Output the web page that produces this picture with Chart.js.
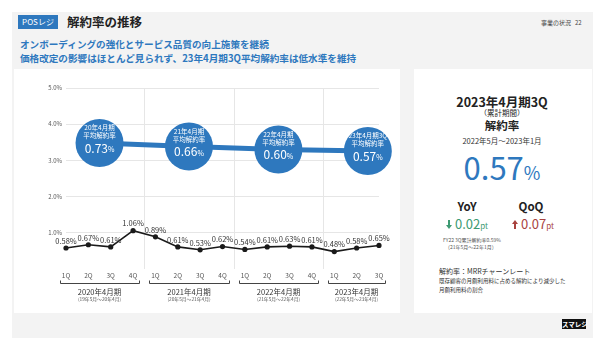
<!DOCTYPE html>
<html lang="ja">
<head>
<meta charset="utf-8">
<script src="https://cdn.jsdelivr.net/npm/chart.js@4.4.0/dist/chart.umd.min.js"></script>
<style>
  body { margin: 0; width: 600px; height: 338px; background: #fff; position: relative; overflow: hidden;
         font-family: "Noto Sans CJK JP", "Noto Sans", sans-serif; color: #222; }
  .abs { position: absolute; white-space: nowrap; }
  .panel { left: 12px; top: 12px; width: 581px; height: 330px; background: #f3f3f3; }
  .card { background: #fff; }
  .badge { left: 18px; top: 15px; width: 40px; height: 14px; background: #2e78be; color: #fff;
           font-size: 8px; line-height: 14px; text-align: center; }
  .title { left: 67px; top: 15px; font-size: 12.5px; line-height: 14px; font-weight: bold; }
  .lead { left: 20px; font-size: 9.6px; line-height: 10px; font-weight: bold; color: #2e78be; }
  .page { left: 541px; top: 19px; font-size: 6px; line-height: 7px; color: #444; }
  .center { left: 412px; width: 180px; text-align: center; }
  .big { color: #2e78be; font-size: 31px; line-height: 32px; }
  .big small { font-size: 18px; }
  .delta { font-size: 13px; line-height: 14px; }
  .delta small { font-size: 8px; }
  .tiny { font-size: 5px; line-height: 6px; color: #555; }
  .note { left: 439px; color: #333; }
  .logo { left: 562px; top: 319px; width: 24px; height: 10px; background: #111; color: #fff;
          font-size: 6.5px; line-height: 10px; font-weight: bold; text-align: center; }
</style>
</head>
<body>
<div class="abs panel"></div>
<div class="abs card" style="left:14px; top:69px; width:386px; height:244px;"></div>
<div class="abs card" style="left:414px; top:69px; width:178px; height:244px;"></div>

<div class="abs badge">POSレジ</div>
<div class="abs title">解約率の推移</div>
<div class="abs page">事業の状況&nbsp;&nbsp;&nbsp;22</div>
<div class="abs lead" style="top:39px;">オンボーディングの強化とサービス品質の向上施策を継続</div>
<div class="abs lead" style="top:53px;">価格改定の影響はほとんど見られず、23年4月期3Q平均解約率は低水準を維持</div>

<canvas id="chart" class="abs" style="left:12px; top:72px;" width="386" height="240"></canvas>

<!-- 右側のサマリー -->
<div class="abs center" style="top:94px; font-size:12.5px; line-height:15px; font-weight:bold;">2023年4月期3Q</div>
<div class="abs center" style="top:108px; font-size:7.5px; line-height:9px;">（累計期間）</div>
<div class="abs center" style="top:118px; font-size:11.5px; line-height:14px; font-weight:bold;">解約率</div>
<div class="abs center" style="top:136px; font-size:7.5px; line-height:9px; color:#333;">2022年5月～2023年1月</div>
<div class="abs center big" style="top:151px;">0.57<small>%</small></div>

<div class="abs" style="left:437px; width:60px; top:199px; text-align:center; font-size:11.5px; line-height:14px; font-weight:bold;">YoY</div>
<div class="abs" style="left:501px; width:60px; top:199px; text-align:center; font-size:11.5px; line-height:14px; font-weight:bold;">QoQ</div>
<div class="abs delta" style="left:437px; width:60px; top:217px; text-align:center; color:#3c9a72;">
  <svg width="6" height="9" viewBox="0 0 6 9"><path d="M2 0h2v5h2L3 9 0 5h2z" fill="#3c9a72"/></svg>&nbsp;0.02<small>pt</small></div>
<div class="abs delta" style="left:503px; width:60px; top:217px; text-align:center; color:#a8423e;">
  <svg width="6" height="9" viewBox="0 0 6 9"><path d="M2 9h2V4h2L3 0 0 4h2z" fill="#a8423e"/></svg>&nbsp;0.07<small>pt</small></div>
<div class="abs tiny" style="left:443px; top:237px;">FY22 3Q累計解約率0.59%</div>
<div class="abs tiny" style="left:445px; top:244px;">（21年5月～22年1月）</div>

<div class="abs note" style="top:267px; font-size:7px; line-height:9px;">解約率：MRRチャーンレート</div>
<div class="abs note" style="top:278px; font-size:5.5px; line-height:7px;">既存顧客の月額利用料に占める解約により減少した</div>
<div class="abs note" style="top:287px; font-size:5.5px; line-height:7px;">月額利用料の割合</div>

<div class="abs logo">スマレジ</div>

<script>
// 四半期ごとの解約率 (%)
const quarters = ['1Q', '2Q', '3Q', '4Q', '1Q', '2Q', '3Q', '4Q', '1Q', '2Q', '3Q', '4Q', '1Q', '2Q', '3Q'];
const churnRates = [0.58, 0.67, 0.61, 1.06, 0.89, 0.61, 0.53, 0.62, 0.54, 0.61, 0.63, 0.61, 0.48, 0.58, 0.65];

// 決算期ごとのまとまり
const fiscalYears = ['2020年4月期', '2021年4月期', '2022年4月期', '2023年4月期'];
const fiscalPeriods = ['(19年5月～20年4月)', '(20年5月～21年4月)', '(21年5月～22年4月)', '(22年5月～23年4月)'];
const quartersPerYear = [4, 4, 4, 3];

// 期ごとの平均解約率 (%)
const avgTitles = ['20年4月期', '21年4月期', '22年4月期', '23年4月期3Q'];
const avgRates = [0.73, 0.66, 0.60, 0.57];

const yTicks = [1, 2, 3, 4, 5];

const BLUE = '#2e78be';
const FONT = '"Noto Sans CJK JP", "Noto Sans", sans-serif';
Chart.defaults.font.family = FONT;

// 各期の最初の四半期のインデックス
const starts = [];
quartersPerYear.reduce((s, n) => { starts.push(s); return s + n; }, 0);

const labelsPlugin = {
  id: 'labels',
  beforeDatasetsDraw(chart) {
    // 期の区切り線
    const { ctx, chartArea } = chart;
    const xs = chart.scales.x;
    ctx.save();
    ctx.strokeStyle = '#e6e6e6';
    ctx.lineWidth = 1;
    for (let g = 1; g < starts.length; g++) {
      const x = Math.round((xs.getPixelForValue(starts[g] - 1) + xs.getPixelForValue(starts[g])) / 2) + 0.5;
      ctx.beginPath();
      ctx.moveTo(x, chartArea.top);
      ctx.lineTo(x, chartArea.bottom);
      ctx.stroke();
    }
    ctx.restore();
  },
  afterDatasetsDraw(chart) {
    const { ctx, chartArea } = chart;
    const xs = chart.scales.x;
    ctx.save();
    ctx.textAlign = 'center';
    ctx.textBaseline = 'middle';

    // 折れ線の値ラベル
    ctx.fillStyle = '#333';
    ctx.font = '7.5px ' + FONT;
    chart.getDatasetMeta(0).data.forEach((pt, i) => {
      ctx.fillText(churnRates[i].toFixed(2) + '%', pt.x, pt.y - 7);
    });

    // 平均解約率の丸の中の文字
    ctx.fillStyle = '#fff';
    chart.getDatasetMeta(1).data.forEach((pt, i) => {
      ctx.font = '6.5px ' + FONT;
      ctx.fillText(avgTitles[i], pt.x, pt.y - 15);
      ctx.fillText('平均解約率', pt.x, pt.y - 7);
      const num = avgRates[i].toFixed(2);
      ctx.font = '12px ' + FONT;
      const w1 = ctx.measureText(num).width;
      ctx.font = '7px ' + FONT;
      const w2 = ctx.measureText('%').width;
      const x0 = pt.x - (w1 + w2) / 2;
      ctx.textAlign = 'left';
      ctx.font = '12px ' + FONT;
      ctx.fillText(num, x0, pt.y + 5);
      ctx.font = '7px ' + FONT;
      ctx.fillText('%', x0 + w1, pt.y + 6.5);
      ctx.textAlign = 'center';
    });

    // 期のブラケットと名称
    const yb = chartArea.bottom + 14.5;
    ctx.strokeStyle = '#444';
    ctx.lineWidth = 1;
    quartersPerYear.forEach((n, g) => {
      const x0 = Math.round(xs.getPixelForValue(starts[g])) - 6;
      const x1 = Math.round(xs.getPixelForValue(starts[g] + n - 1)) + 6;
      ctx.beginPath();
      ctx.moveTo(x0 + 0.5, yb - 3);
      ctx.lineTo(x0 + 0.5, yb);
      ctx.lineTo(x1 + 0.5, yb);
      ctx.lineTo(x1 + 0.5, yb - 3);
      ctx.stroke();
      const cx = (x0 + x1) / 2;
      ctx.fillStyle = '#333';
      ctx.font = '7.5px ' + FONT;
      ctx.fillText(fiscalYears[g], cx, chartArea.bottom + 23);
      ctx.fillStyle = '#555';
      ctx.font = '4.8px ' + FONT;
      ctx.fillText(fiscalPeriods[g], cx, chartArea.bottom + 30);
    });
    ctx.restore();
  }
};

const ctx = document.getElementById('chart').getContext('2d');
new Chart(ctx, {
  type: 'line',
  data: {
    labels: quarters,
    datasets: [
      {
        data: churnRates,
        borderColor: '#1a1a1a',
        borderWidth: 1.6,
        pointRadius: 2.6,
        pointBackgroundColor: '#1a1a1a',
        pointBorderWidth: 0,
        tension: 0,
        clip: false
      },
      {
        data: avgRates.map((v, i) => ({ x: starts[i] + 1.5, y: v })),
        xAxisID: 'xAvg',
        yAxisID: 'yAvg',
        borderColor: BLUE,
        borderWidth: 5,
        pointRadius: 24,
        pointBackgroundColor: BLUE,
        pointBorderWidth: 0,
        clip: false
      }
    ]
  },
  options: {
    responsive: false,
    animation: false,
    devicePixelRatio: 1,
    layout: { autoPadding: false, padding: { top: 16, right: 19, left: 0, bottom: 0 } },
    plugins: { legend: { display: false }, tooltip: { enabled: false } },
    scales: {
      x: {
        offset: false,
        grid: { display: false, drawTicks: false },
        border: { display: false },
        ticks: { color: '#555', font: { size: 6.5 }, padding: 3, maxRotation: 0, autoSkip: false },
        afterFit: s => { s.height = 43; }
      },
      y: {
        min: 0,
        max: 5,
        border: { display: false },
        grid: { color: '#e6e6e6', drawTicks: false },
        ticks: {
          stepSize: 1,
          color: '#555',
          font: { size: 6 },
          padding: 4,
          callback: v => yTicks.includes(v) ? v.toFixed(1) + '%' : null
        },
        afterFit: s => { s.width = 54; }
      },
      xAvg: { type: 'linear', display: false, min: 0, max: quarters.length - 1 },
      yAvg: { type: 'linear', display: false, min: -1.79, max: 1.83 }
    }
  },
  plugins: [labelsPlugin]
});
</script>
</body>
</html>
